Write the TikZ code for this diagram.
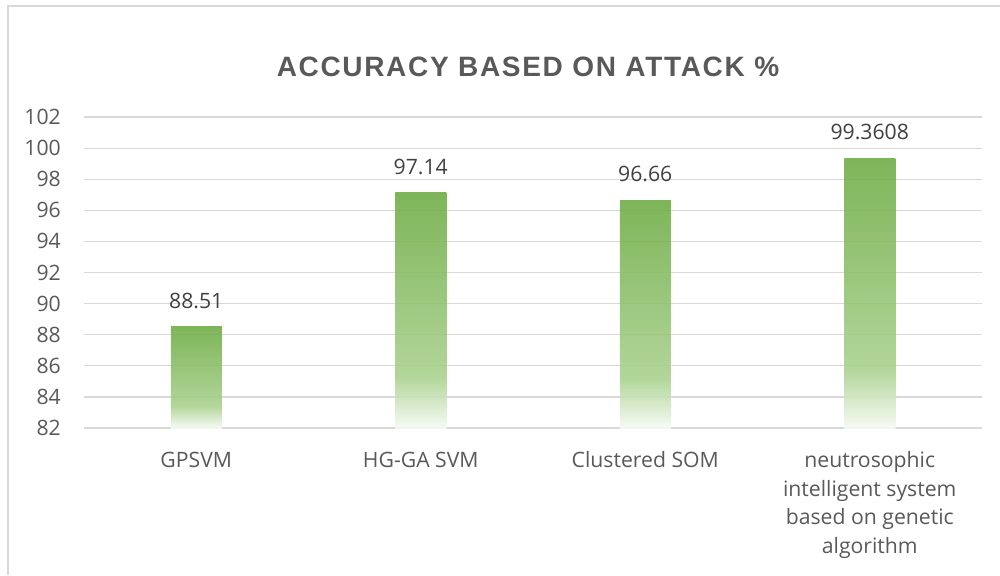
\documentclass[tikz,border=0pt]{standalone}
\usepackage{fontspec}
\setmainfont{Open Sans}
\newfontfamily\titlefont[LetterSpace=6]{Liberation Sans}
\usepackage{xcolor}
\usepackage{tikz}

\definecolor{barGreen}{RGB}{112,173,71}
\definecolor{barLight}{RGB}{169,209,142}
\definecolor{barPale}{RGB}{246,250,244}
\definecolor{gridGray}{RGB}{217,217,217}
\definecolor{axisText}{RGB}{89,89,89}
\definecolor{valueText}{RGB}{64,64,64}

% Fade from green at the top of a bar to near white at its foot
\pgfdeclareverticalshading{barfade}{100bp}{color(0bp)=(barPale); color(25bp)=(barPale); color(36bp)=(barLight); color(75bp)=(barGreen); color(100bp)=(barGreen)}

\begin{document}
\begin{tikzpicture}[x=1pt, y=-1pt,
  font=\fontsize{21.2}{28.5}\selectfont,
  gridline/.style={draw=gridGray, line width=1.2pt},
  ylabel/.style={anchor=east, inner sep=0pt, text=axisText},
  catlabel/.style={anchor=north, inner sep=0pt, text=axisText, align=center},
  valuelabel/.style={anchor=base, inner sep=0pt, text=valueText},
  bar/.style={shading=barfade, fill opacity=0.9}]

  \useasboundingbox (0,0) rectangle (1000,575);

  % Chart frame, cut off on the right and at the bottom
  \draw[gridGray, line width=1.2pt] (8,575) -- (8,6) -- (1000,6);

  % Title
  \node[anchor=base, inner sep=0pt, text=axisText, font=\titlefont\bfseries\fontsize{28}{32}\selectfont] (Title) at (528,76.7) {ACCURACY BASED ON ATTACK \%};

  % Gridlines and y-axis labels
  \foreach \v in {82,84,...,102} {
    \draw[gridline] (84,{428-(\v-82)*15.55}) -- (982,{428-(\v-82)*15.55});
    \node[ylabel] (y\v) at (61,{428-(\v-82)*15.55}) {\v};
  }

  % Bars
  \shade[bar] (170.75,428) rectangle (221.75,326.77);
  \shade[bar] (395.25,428) rectangle (446.25,192.57);
  \shade[bar] (619.75,428) rectangle (670.75,200.03);
  \shade[bar] (844.25,428) rectangle (895.25,158.04);

  % Value labels above the bars
  \node[valuelabel] (GPSVMValue) at (196.25,308.3) {88.51};
  \node[valuelabel] (HGGAValue) at (420.75,174.1) {97.14};
  \node[valuelabel] (ClusteredValue) at (645.25,181.5) {96.66};
  \node[valuelabel] (NeutroValue) at (869.75,139.5) {99.3608};

  % Category labels
  \node[catlabel] (GPSVM) at (196.25,451.5) {GPSVM};
  \node[catlabel] (HGGA) at (420.75,451.5) {HG-GA SVM};
  \node[catlabel] (Clustered) at (645.25,451.5) {Clustered SOM};
  \node[catlabel] (Neutro) at (869.75,451.5) {neutrosophic\\intelligent system\\based on genetic\\algorithm};

\end{tikzpicture}
\end{document}
